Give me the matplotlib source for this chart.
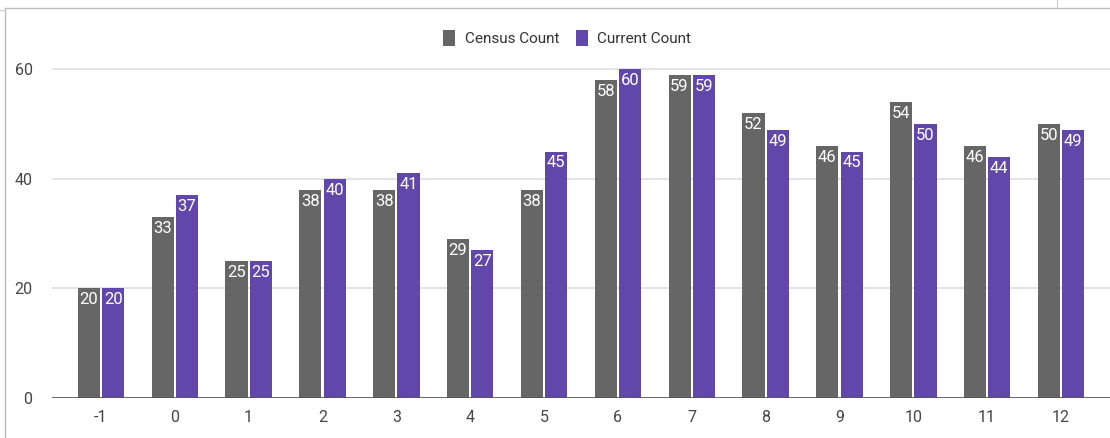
import matplotlib
matplotlib.use("Agg")
import matplotlib.pyplot as plt
from matplotlib.lines import Line2D
from matplotlib.patches import Patch
import numpy as np

CATEGORIES = ["-1", "0", "1", "2", "3", "4", "5", "6", "7", "8", "9", "10", "11", "12"]
CENSUS = [20, 33, 25, 38, 38, 29, 38, 58, 59, 52, 46, 54, 46, 50]
CURRENT = [20, 37, 25, 40, 41, 27, 45, 60, 59, 49, 45, 50, 44, 49]
Y_TICKS = [0, 20, 40, 60]

GRAY = "#666666"
PURPLE = "#6247aa"
TEXT = "#444444"
GRID = "#dedede"

plt.rcParams["font.family"] = ["Roboto", "DejaVu Sans"]

fig = plt.figure(figsize=(11.1, 4.38), dpi=100)
ax = fig.add_axes([52 / 1110, 40 / 438, 1 - 52 / 1110, 345 / 438])

x = np.arange(len(CATEGORIES))
width = 0.30
offset = 0.165
b1 = ax.bar(x - offset, CENSUS, width, color=GRAY, zorder=3)
b2 = ax.bar(x + offset, CURRENT, width, color=PURPLE, zorder=3)

for bars, vals in ((b1, CENSUS), (b2, CURRENT)):
    for bar, v in zip(bars, vals):
        ax.text(bar.get_x() + bar.get_width() / 2, v - 0.7, str(v),
                ha="center", va="top", color="white", fontsize=12, zorder=4)

ax.set_xlim(-0.663, len(CATEGORIES) - 1 + 0.663)
ax.set_ylim(0, 63)
ax.set_xticks(x)
ax.set_xticklabels(CATEGORIES)
ax.set_yticks(Y_TICKS)
ax.tick_params(length=0, colors=TEXT, labelsize=11.5)
ax.tick_params(axis="x", pad=9)
ax.tick_params(axis="y", pad=14)
ax.grid(axis="y", color=GRID, linewidth=1.2, zorder=0)
ax.axhline(0, color="#555555", linewidth=1.2, zorder=5)
for s in ax.spines.values():
    s.set_visible(False)

handles = [Patch(facecolor=GRAY, label="Census Count"),
           Patch(facecolor=PURPLE, label="Current Count")]
fig.legend(handles=handles, loc="center", bbox_to_anchor=(0.511, 1 - 38 / 438),
           ncol=2, frameon=False, fontsize=11, handlelength=0.8, handleheight=1.2,
           handletextpad=0.6, columnspacing=1.1, labelcolor="#333333")

# screenshot frame
fig.add_artist(Line2D([5 / 1110, 1], [1 - 8 / 438, 1 - 8 / 438], color="#bbbbbb", linewidth=1))
fig.add_artist(Line2D([5 / 1110, 5 / 1110], [0, 1 - 8 / 438], color="#bbbbbb", linewidth=1))
fig.add_artist(Line2D([0, 5 / 1110], [1 - 10 / 438, 1 - 10 / 438], color="#cccccc", linewidth=0.8))
fig.add_artist(Line2D([1057 / 1110, 1057 / 1110], [1 - 8 / 438, 1], color="#cccccc", linewidth=0.8))

fig.savefig("out.png", dpi=100)
